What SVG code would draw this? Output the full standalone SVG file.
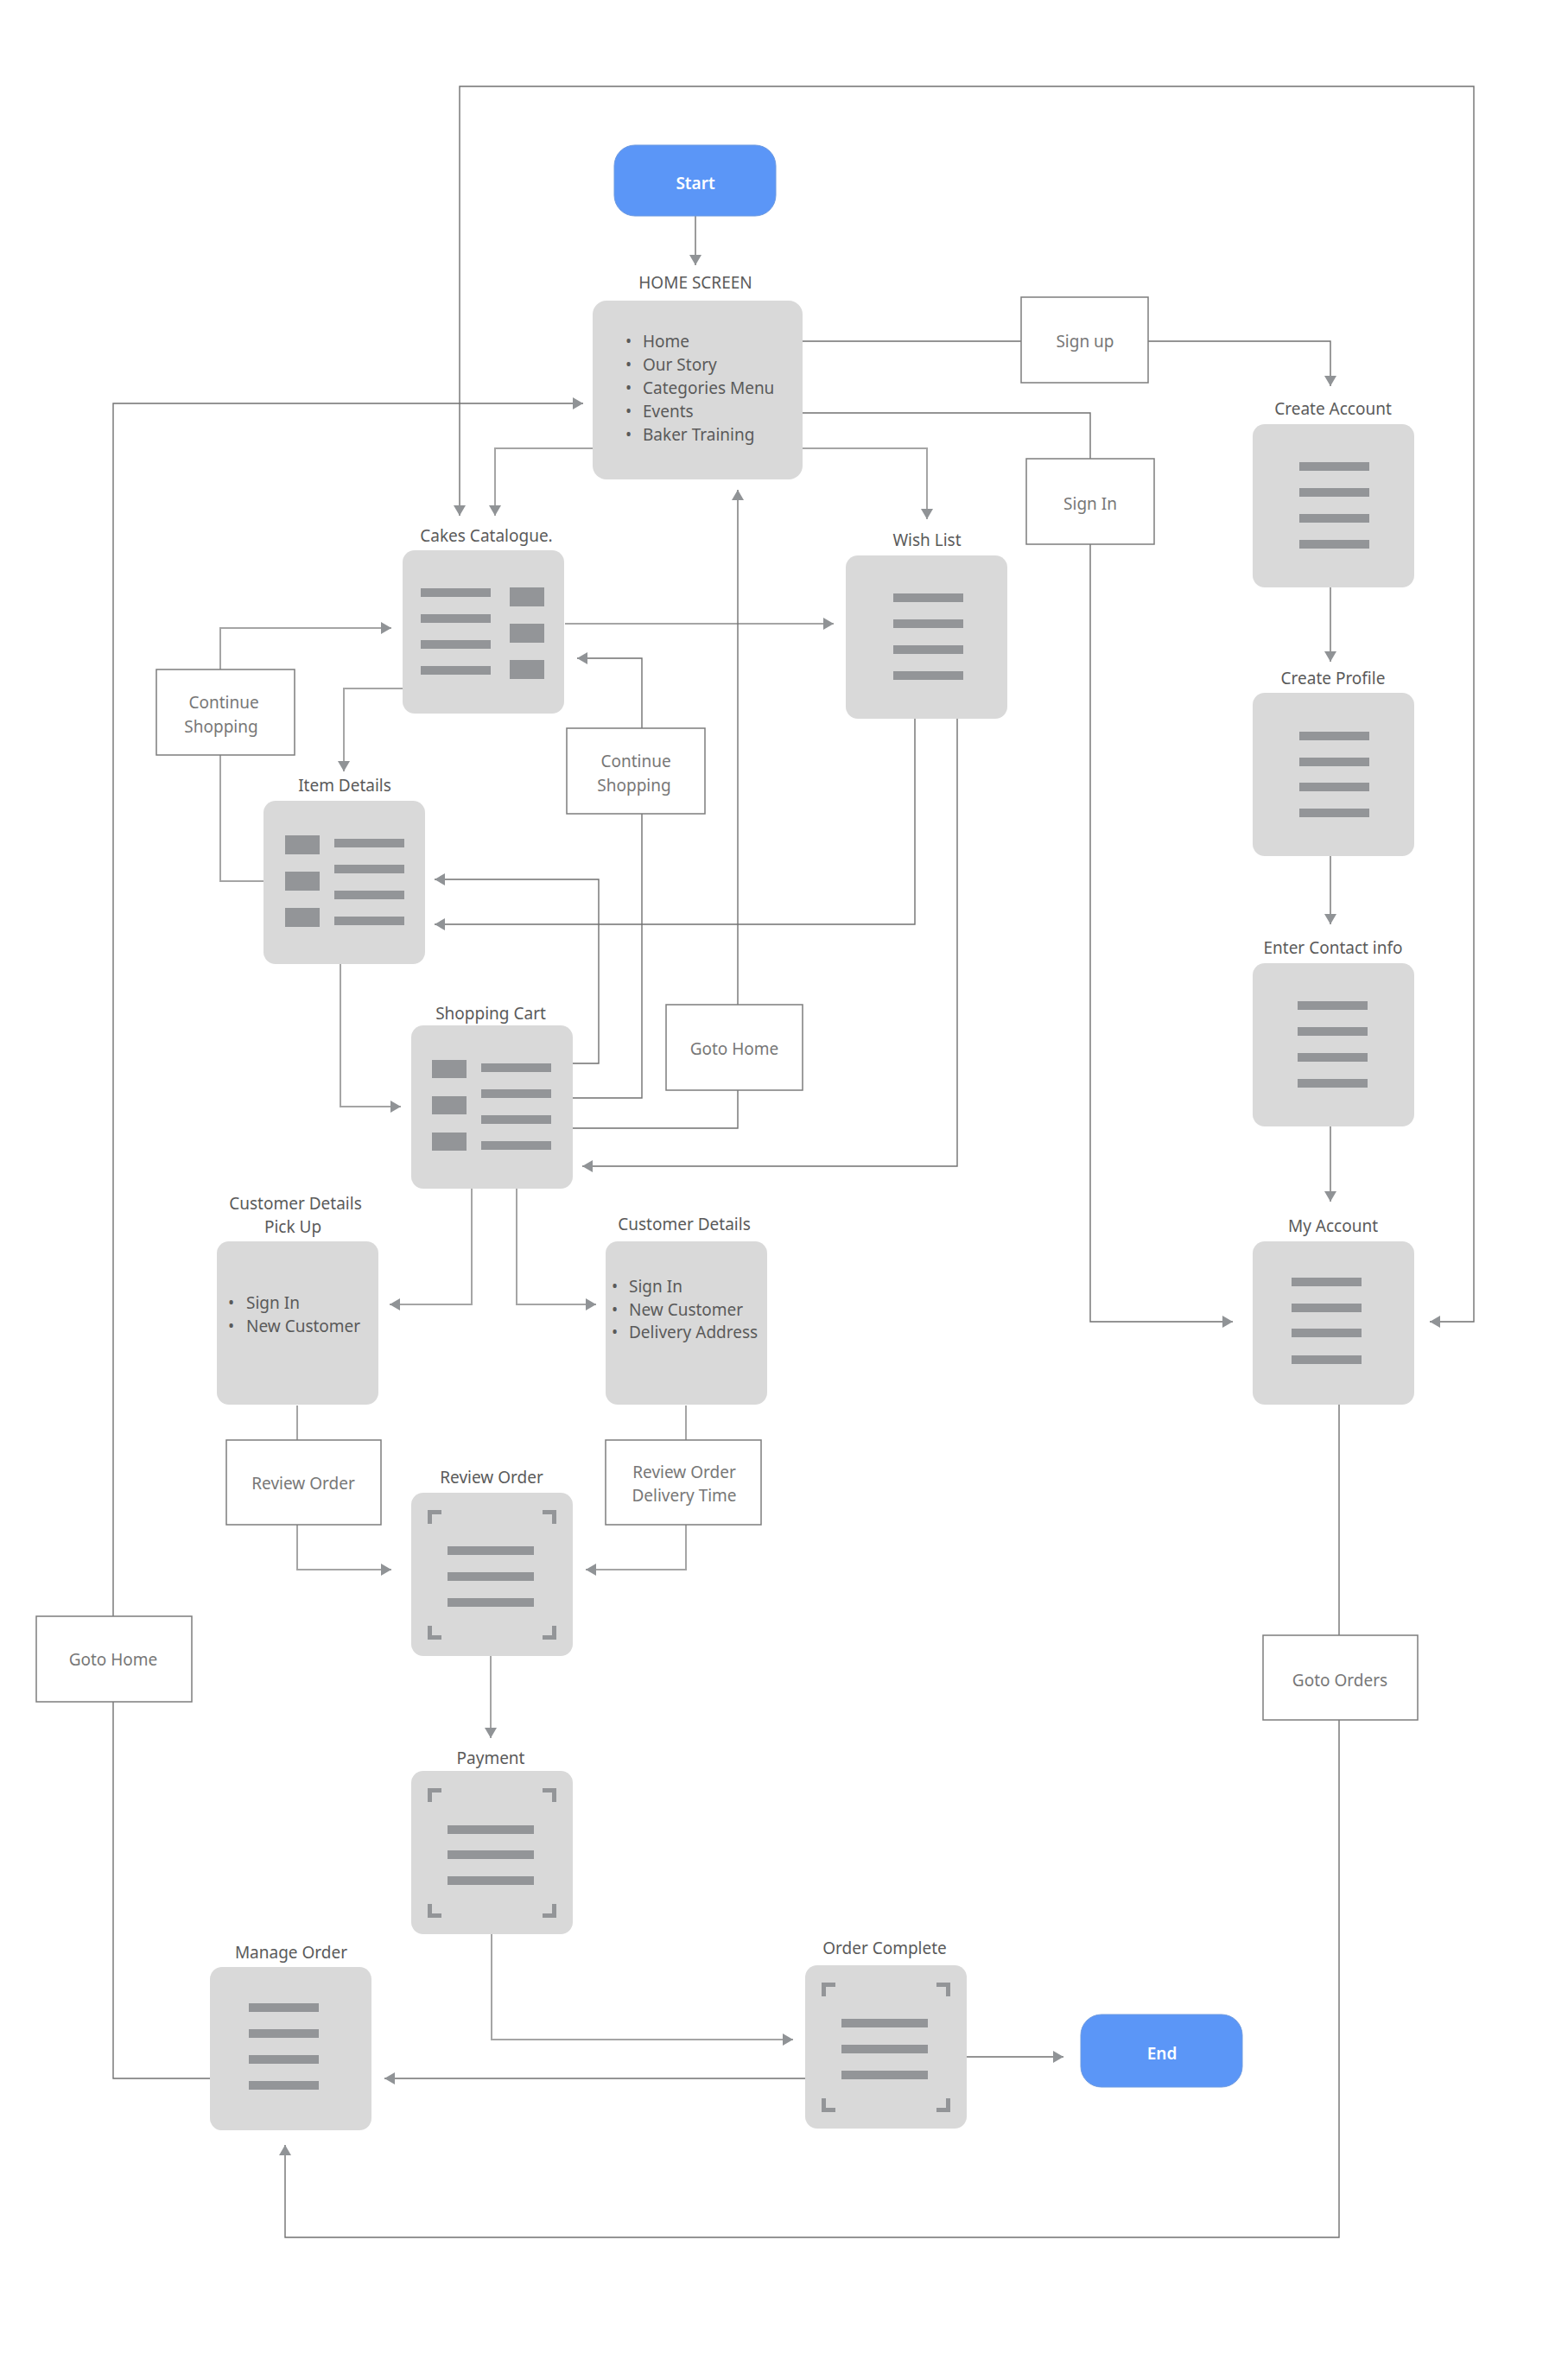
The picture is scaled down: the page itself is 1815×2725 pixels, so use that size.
<svg xmlns="http://www.w3.org/2000/svg" xmlns:xlink="http://www.w3.org/1999/xlink" width="1815" height="2725" viewBox="0 0 1815 2725">
<style>
.scr{fill:#d9d9d9}
.bar{fill:#939598}
.brk{fill:#939598}
.lbl{fill:#ffffff;stroke:#7d7d7d;stroke-width:1.5}
.term{fill:#5b96f7;stroke:#6f9be0;stroke-width:1}
.t{font-family:"Noto Sans","Open Sans","Liberation Sans",sans-serif;font-size:19px;fill:#5a5a5a;text-anchor:middle}
.tc{font-family:"Noto Sans","Open Sans","Liberation Sans",sans-serif;font-size:19px;fill:#777777;text-anchor:middle}
.tl{font-family:"Noto Sans","Open Sans","Liberation Sans",sans-serif;font-size:19px;fill:#5a5a5a;text-anchor:start}
.tw{font-family:"Noto Sans","Open Sans","Liberation Sans",sans-serif;font-size:19px;font-weight:600;fill:#ffffff;text-anchor:middle}
.ln{fill:none;stroke:#717171;stroke-width:1.4}
.lt{fill:none;stroke:#a5a5a5;stroke-width:2}
</style>
<defs>
<marker id="ar" viewBox="0 0 12 14" refX="12" refY="7" markerWidth="12" markerHeight="14" markerUnits="userSpaceOnUse" orient="auto-start-reverse">
<path d="M0,0 L12,7 L0,14 z" fill="#909396"/>
</marker>
<g id="corners">
<path class="brk" d="M19,20 h16 v5 h-11 v11 h-5 z"/>
<path class="brk" d="M168,20 h-16 v5 h11 v11 h5 z"/>
<path class="brk" d="M19,170 h16 v-5 h-11 v-11 h-5 z"/>
<path class="brk" d="M168,170 h-16 v-5 h11 v-11 h5 z"/>
</g>
<rect id="screen" class="scr" x="0" y="0" width="187" height="189" rx="14"/>
</defs>
<rect x="0" y="0" width="1815" height="2725" fill="#ffffff"/>

<g id="connectors">
<path class="ln" d="M532,597 V100 H1706 V1530 H1655" marker-start="url(#ar)" marker-end="url(#ar)"/>
<path class="ln" d="M805,250 V307" marker-end="url(#ar)"/>
<path class="ln" d="M929,395 H1182"/>
<path class="ln" d="M1329,395 H1540 V447" marker-end="url(#ar)"/>
<path class="ln" d="M929,478 H1262 V531"/>
<path class="ln" d="M1262,630 V1530 H1427" marker-end="url(#ar)"/>
<path class="lt" d="M686,519 H573 V597" marker-end="url(#ar)"/>
<path class="lt" d="M929,519 H1073 V601" marker-end="url(#ar)"/>
<path class="lt" d="M654,722 H965" marker-end="url(#ar)"/>
<path class="lt" d="M255,775 V727 H453" marker-end="url(#ar)"/>
<path class="lt" d="M255,874 V1020 H305"/>
<path class="lt" d="M466,797 H398 V893" marker-end="url(#ar)"/>
<path class="ln" d="M743,843 V762 H668" marker-end="url(#ar)"/>
<path class="ln" d="M743,942 V1271 H662"/>
<path class="ln" d="M662,1231 H693 V1018 H503" marker-end="url(#ar)"/>
<path class="ln" d="M1059,832 V1070 H503" marker-end="url(#ar)"/>
<path class="ln" d="M1108,832 V1350 H674" marker-end="url(#ar)"/>
<path class="lt" d="M394,1116 V1281 H464" marker-end="url(#ar)"/>
<path class="ln" d="M662,1306 H854 V1262"/>
<path class="ln" d="M854,1163 V567" marker-end="url(#ar)"/>
<path class="lt" d="M546,1376 V1510 H451" marker-end="url(#ar)"/>
<path class="lt" d="M598,1376 V1510 H690" marker-end="url(#ar)"/>
<path class="lt" d="M344,1627 V1667"/>
<path class="lt" d="M344,1765 V1817 H453" marker-end="url(#ar)"/>
<path class="lt" d="M794,1627 V1667"/>
<path class="lt" d="M794,1765 V1817 H678" marker-end="url(#ar)"/>
<path class="lt" d="M568,1917 V2012" marker-end="url(#ar)"/>
<path class="lt" d="M569,2239 V2361 H918" marker-end="url(#ar)"/>
<path class="ln" d="M1118,2381 H1231" marker-end="url(#ar)"/>
<path class="ln" d="M932,2406 H445" marker-end="url(#ar)"/>
<path class="ln" d="M243,2406 H131 V1970"/>
<path class="ln" d="M131,1871 V467 H675" marker-end="url(#ar)"/>
<path class="ln" d="M1550,1625 V1893"/>
<path class="ln" d="M1550,1991 V2590 H330 V2483" marker-end="url(#ar)"/>
<path class="ln" d="M1540,679 V766" marker-end="url(#ar)"/>
<path class="ln" d="M1540,991 V1070" marker-end="url(#ar)"/>
<path class="ln" d="M1540,1304 V1391" marker-end="url(#ar)"/>
</g>

<g id="start">
<rect class="term" x="711" y="168" width="187" height="82" rx="24"/>
<text class="tw" x="805" y="219">Start</text>
</g>

<g id="home-screen">
<text class="t" x="805" y="334">HOME SCREEN</text>
<rect class="scr" x="686" y="348" width="243" height="207" rx="16"/>
<text class="tl" x="724" y="402">•</text><text class="tl" x="744" y="402">Home</text>
<text class="tl" x="724" y="429">•</text><text class="tl" x="744" y="429">Our Story</text>
<text class="tl" x="724" y="456">•</text><text class="tl" x="744" y="456">Categories Menu</text>
<text class="tl" x="724" y="483">•</text><text class="tl" x="744" y="483">Events</text>
<text class="tl" x="724" y="510">•</text><text class="tl" x="744" y="510">Baker Training</text>
</g>

<g id="sign-up">
<rect class="lbl" x="1182" y="344" width="147" height="99"/>
<text class="tc" x="1256" y="402">Sign up</text>
</g>

<g id="sign-in">
<rect class="lbl" x="1188" y="531" width="148" height="99"/>
<text class="tc" x="1262" y="590">Sign In</text>
</g>

<g id="cakes-catalogue">
<text class="t" x="563" y="627">Cakes Catalogue.</text>
<use xlink:href="#screen" x="466" y="637"/>
<rect class="bar" x="487" y="681" width="81" height="10"/>
<rect class="bar" x="487" y="711" width="81" height="10"/>
<rect class="bar" x="487" y="741" width="81" height="10"/>
<rect class="bar" x="487" y="771" width="81" height="10"/>
<rect class="bar" x="590" y="680" width="40" height="22"/>
<rect class="bar" x="590" y="722" width="40" height="22"/>
<rect class="bar" x="590" y="764" width="40" height="22"/>
</g>

<g id="wish-list">
<text class="t" x="1073" y="632">Wish List</text>
<use xlink:href="#screen" x="979" y="643"/>
<rect class="bar" x="1034" y="687" width="81" height="10"/>
<rect class="bar" x="1034" y="717" width="81" height="10"/>
<rect class="bar" x="1034" y="747" width="81" height="10"/>
<rect class="bar" x="1034" y="777" width="81" height="10"/>
</g>

<g id="continue-shopping-1">
<rect class="lbl" x="181" y="775" width="160" height="99"/>
<text class="tc" x="259" y="820">Continue</text>
<text class="tc" x="256" y="848">Shopping</text>
</g>

<g id="continue-shopping-2">
<rect class="lbl" x="656" y="843" width="160" height="99"/>
<text class="tc" x="736" y="888">Continue</text>
<text class="tc" x="734" y="916">Shopping</text>
</g>

<g id="item-details">
<text class="t" x="399" y="916">Item Details</text>
<use xlink:href="#screen" x="305" y="927"/>
<rect class="bar" x="330" y="967" width="40" height="22"/>
<rect class="bar" x="330" y="1009" width="40" height="22"/>
<rect class="bar" x="330" y="1051" width="40" height="22"/>
<rect class="bar" x="387" y="971" width="81" height="10"/>
<rect class="bar" x="387" y="1001" width="81" height="10"/>
<rect class="bar" x="387" y="1031" width="81" height="10"/>
<rect class="bar" x="387" y="1061" width="81" height="10"/>
</g>

<g id="goto-home-1">
<rect class="lbl" x="771" y="1163" width="158" height="99"/>
<text class="tc" x="850" y="1221">Goto Home</text>
</g>

<g id="shopping-cart">
<text class="t" x="568" y="1180">Shopping Cart</text>
<use xlink:href="#screen" x="476" y="1187"/>
<rect class="bar" x="500" y="1227" width="40" height="21"/>
<rect class="bar" x="500" y="1269" width="40" height="21"/>
<rect class="bar" x="500" y="1311" width="40" height="21"/>
<rect class="bar" x="557" y="1231" width="81" height="10"/>
<rect class="bar" x="557" y="1261" width="81" height="10"/>
<rect class="bar" x="557" y="1291" width="81" height="10"/>
<rect class="bar" x="557" y="1321" width="81" height="10"/>
</g>

<g id="customer-details-pickup">
<text class="t" x="342" y="1400">Customer Details</text>
<text class="t" x="339" y="1427">Pick Up</text>
<use xlink:href="#screen" x="251" y="1437"/>
<text class="tl" x="264" y="1515">•</text><text class="tl" x="285" y="1515">Sign In</text>
<text class="tl" x="264" y="1542">•</text><text class="tl" x="285" y="1542">New Customer</text>
</g>

<g id="customer-details">
<text class="t" x="792" y="1424">Customer Details</text>
<use xlink:href="#screen" x="701" y="1437"/>
<text class="tl" x="708" y="1496">•</text><text class="tl" x="728" y="1496">Sign In</text>
<text class="tl" x="708" y="1523">•</text><text class="tl" x="728" y="1523">New Customer</text>
<text class="tl" x="708" y="1549">•</text><text class="tl" x="728" y="1549">Delivery Address</text>
</g>

<g id="review-order-label">
<rect class="lbl" x="262" y="1667" width="179" height="98"/>
<text class="tc" x="351" y="1724">Review Order</text>
</g>

<g id="review-order-delivery-label">
<rect class="lbl" x="701" y="1667" width="180" height="98"/>
<text class="tc" x="792" y="1711">Review Order</text>
<text class="tc" x="792" y="1738">Delivery Time</text>
</g>

<g id="review-order">
<text class="t" x="569" y="1717">Review Order</text>
<use xlink:href="#screen" x="476" y="1728"/>
<use xlink:href="#corners" x="476" y="1728"/>
<rect class="bar" x="518" y="1790" width="100" height="10"/>
<rect class="bar" x="518" y="1820" width="100" height="10"/>
<rect class="bar" x="518" y="1850" width="100" height="10"/>
</g>

<g id="goto-home-2">
<rect class="lbl" x="42" y="1871" width="180" height="99"/>
<text class="tc" x="131" y="1928">Goto Home</text>
</g>

<g id="my-account-nodes">
<g id="create-account">
<text class="t" x="1543" y="480">Create Account</text>
<use xlink:href="#screen" x="1450" y="491"/>
<rect class="bar" x="1504" y="535" width="81" height="10"/>
<rect class="bar" x="1504" y="565" width="81" height="10"/>
<rect class="bar" x="1504" y="595" width="81" height="10"/>
<rect class="bar" x="1504" y="625" width="81" height="10"/>
</g>
<g id="create-profile">
<text class="t" x="1543" y="792">Create Profile</text>
<use xlink:href="#screen" x="1450" y="802"/>
<rect class="bar" x="1504" y="847" width="81" height="10"/>
<rect class="bar" x="1504" y="877" width="81" height="10"/>
<rect class="bar" x="1504" y="906" width="81" height="10"/>
<rect class="bar" x="1504" y="936" width="81" height="10"/>
</g>
<g id="enter-contact-info">
<text class="t" x="1543" y="1104">Enter Contact info</text>
<use xlink:href="#screen" x="1450" y="1115"/>
<rect class="bar" x="1502" y="1159" width="81" height="10"/>
<rect class="bar" x="1502" y="1189" width="81" height="10"/>
<rect class="bar" x="1502" y="1219" width="81" height="10"/>
<rect class="bar" x="1502" y="1249" width="81" height="10"/>
</g>
<g id="my-account">
<text class="t" x="1543" y="1426">My Account</text>
<use xlink:href="#screen" x="1450" y="1437"/>
<rect class="bar" x="1495" y="1479" width="81" height="10"/>
<rect class="bar" x="1495" y="1509" width="81" height="10"/>
<rect class="bar" x="1495" y="1538" width="81" height="10"/>
<rect class="bar" x="1495" y="1569" width="81" height="10"/>
</g>
</g>

<g id="goto-orders">
<rect class="lbl" x="1462" y="1893" width="179" height="98"/>
<text class="tc" x="1551" y="1952">Goto Orders</text>
</g>

<g id="payment">
<text class="t" x="568" y="2042">Payment</text>
<use xlink:href="#screen" x="476" y="2050"/>
<use xlink:href="#corners" x="476" y="2050"/>
<rect class="bar" x="518" y="2113" width="100" height="10"/>
<rect class="bar" x="518" y="2142" width="100" height="10"/>
<rect class="bar" x="518" y="2172" width="100" height="10"/>
</g>

<g id="manage-order">
<text class="t" x="337" y="2267">Manage Order</text>
<use xlink:href="#screen" x="243" y="2277"/>
<rect class="bar" x="288" y="2319" width="81" height="10"/>
<rect class="bar" x="288" y="2349" width="81" height="10"/>
<rect class="bar" x="288" y="2379" width="81" height="10"/>
<rect class="bar" x="288" y="2409" width="81" height="10"/>
</g>

<g id="order-complete">
<text class="t" x="1024" y="2262">Order Complete</text>
<use xlink:href="#screen" x="932" y="2275"/>
<use xlink:href="#corners" x="932" y="2275"/>
<rect class="bar" x="974" y="2337" width="100" height="10"/>
<rect class="bar" x="974" y="2367" width="100" height="10"/>
<rect class="bar" x="974" y="2397" width="100" height="10"/>
</g>

<g id="end">
<rect class="term" x="1251" y="2332" width="187" height="84" rx="24"/>
<text class="tw" x="1345" y="2384">End</text>
</g>
</svg>
